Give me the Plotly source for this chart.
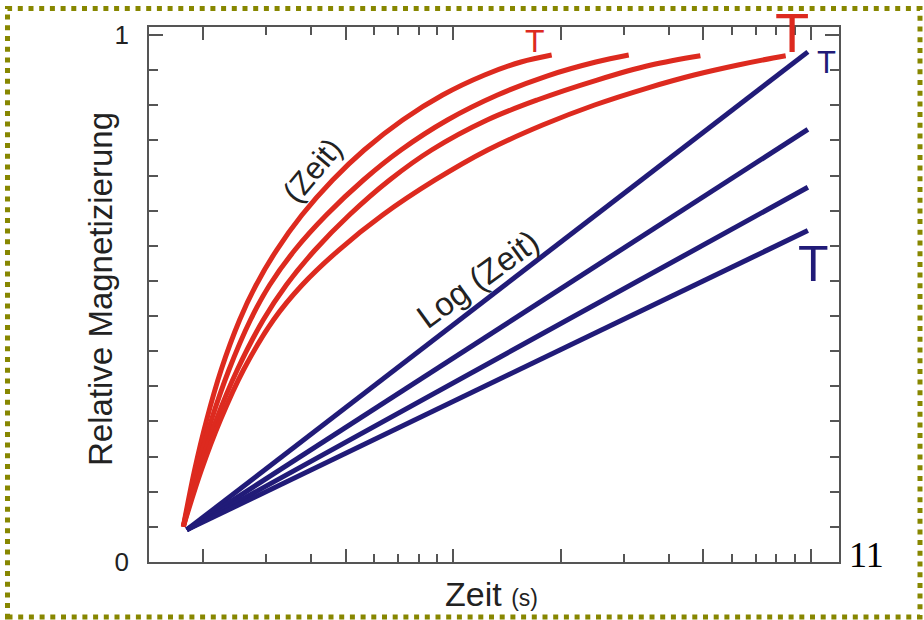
import numpy as np
import plotly.graph_objects as go

# ---- data -------------------------------------------------------------
# Red family: magnetisation plotted against linear time
red_x = [
    [0.8792, 0.9455, 1.0215, 1.1214, 1.2632, 1.4048, 1.6040, 1.8865, 2.3001,
     2.8173, 3.6074, 4.6666, 6.1153, 7.7304, 9.4180],
    [0.8792, 0.9596, 1.0535, 1.1791, 1.3542, 1.5328, 1.8028, 2.2080, 2.8037,
     3.5693, 4.8143, 6.6425, 9.1297, 12.515, 15.467],
    [0.8792, 0.9740, 1.0866, 1.2439, 1.4705, 1.7062, 2.0524, 2.5596, 3.3176,
     4.3476, 6.2145, 8.5737, 12.616, 17.861, 24.530],
    [0.8792, 0.9878, 1.1164, 1.2945, 1.5703, 1.8889, 2.3931, 3.1715, 4.4467,
     6.2347, 8.8834, 12.414, 17.429, 23.556, 31.266, 39.167, 42.476],
]
red_y = [
    [0.0670, 0.1746, 0.2694, 0.3643, 0.4592, 0.5256, 0.5920, 0.6584, 0.7249,
     0.7818, 0.8387, 0.8861, 0.9241, 0.9488, 0.9620],
    [0.0670, 0.1746, 0.2694, 0.3643, 0.4592, 0.5256, 0.5920, 0.6584, 0.7249,
     0.7818, 0.8387, 0.8861, 0.9222, 0.9488, 0.9620],
    [0.0670, 0.1746, 0.2694, 0.3643, 0.4592, 0.5256, 0.5920, 0.6584, 0.7249,
     0.7818, 0.8387, 0.8767, 0.9146, 0.9431, 0.9607],
    [0.0670, 0.1746, 0.2694, 0.3643, 0.4592, 0.5256, 0.5920, 0.6584, 0.7249,
     0.7818, 0.8292, 0.8672, 0.8994, 0.9241, 0.9431, 0.9564, 0.9607],
]

# Blue family: straight lines against log(time)
blue_x_start, blue_y_start = 0.899, 0.061
blue_x_end = 49.0
blue_y_end = [0.968, 0.821, 0.711, 0.629]

# Axis ticks
x_major = [1, 2.5, 5, 10, 25, 50]
x_minor = [1.5, 2, 3, 3.5, 4, 4.5, 15, 20, 30, 35, 40, 45]
y_major = [0, 1]
y_major_text = ["0", "1"]
y_minor = [k / 15 for k in range(1, 15)]

RED = "#DD2A1F"
BLUE = "#211B78"
AXIS = "#555555"
TEXT = "#222222"
SANS = "Liberation Sans, Arial, sans-serif"

fig = go.Figure()

for xs, ys in zip(red_x, red_y):
    fig.add_trace(go.Scatter(
        x=xs, y=ys, mode="lines",
        line=dict(color=RED, width=5, shape="spline", smoothing=1.0),
        hoverinfo="skip", showlegend=False,
    ))

for ye in blue_y_end:
    fig.add_trace(go.Scatter(
        x=[blue_x_start, blue_x_end], y=[blue_y_start, ye], mode="lines",
        line=dict(color=BLUE, width=5),
        hoverinfo="skip", showlegend=False,
    ))

W, H = 924, 620
ML, MR, MT, MB = 149, 85, 27, 58
PW, PH = W - ML - MR, H - MT - MB


def px(x):
    return (x - ML) / PW


def py(y):
    return (H - MB - y) / PH


def note(text, x, y, size, color=TEXT, angle=0, family=SANS):
    fig.add_annotation(
        text=text, x=px(x), y=py(y), xref="paper", yref="paper",
        showarrow=False, xanchor="center", yanchor="middle",
        textangle=angle, font=dict(family=family, size=size, color=color),
    )


# curve labels
note("(Zeit)", 312, 170, 31, angle=-50)
note("Log (Zeit)", 477, 279, 33, angle=-36)
note("T", 535, 41, 32, color=RED)
note("T", 792, 32, 56, color=RED)
note("T", 826, 62, 31, color=BLUE)
note("T", 813, 264, 50, color=BLUE)

# axis titles
note("Relative Magnetizierung", 100, 289, 33, angle=-90)
note("Zeit <span style='font-size:23px'>(s)</span>", 491, 594, 34)

# page number
note("11", 866, 555, 36, color="#000000", family="Liberation Serif, Times New Roman, serif")

# dotted page frame
fig.add_shape(
    type="rect", xref="paper", yref="paper",
    x0=px(7.5), x1=px(920), y0=py(617), y1=py(8.5),
    line=dict(color="#878700", width=5, dash="5px,5.7px"),
    layer="above",
)

fig.update_xaxes(
    type="log", range=[-0.1518, 1.7772],
    tickmode="array", tickvals=x_major, showticklabels=False,
    ticks="inside", ticklen=13, tickwidth=1.5, tickcolor=AXIS,
    minor=dict(tickmode="array", tickvals=x_minor, ticks="inside",
               ticklen=8, tickwidth=1.5, tickcolor=AXIS, showgrid=False),
    showline=True, linecolor=AXIS, linewidth=1.6, mirror="ticks",
    showgrid=False, zeroline=False,
)
fig.update_yaxes(
    range=[0, 1.0152],
    tickmode="array", tickvals=y_major, ticktext=y_major_text,
    ticks="inside", ticklen=14, tickwidth=1.5, tickcolor=AXIS,
    tickfont=dict(family=SANS, size=26, color=TEXT), ticklabelstandoff=13,
    minor=dict(tickmode="array", tickvals=y_minor, ticks="inside",
               ticklen=9, tickwidth=1.5, tickcolor=AXIS, showgrid=False),
    showline=True, linecolor=AXIS, linewidth=1.6, mirror="ticks",
    showgrid=False, zeroline=False,
)

fig.update_layout(
    width=W, height=H,
    margin=dict(l=ML, r=MR, t=MT, b=MB, pad=0),
    paper_bgcolor="white", plot_bgcolor="white",
    showlegend=False,
)

fig.write_html("out.html")
